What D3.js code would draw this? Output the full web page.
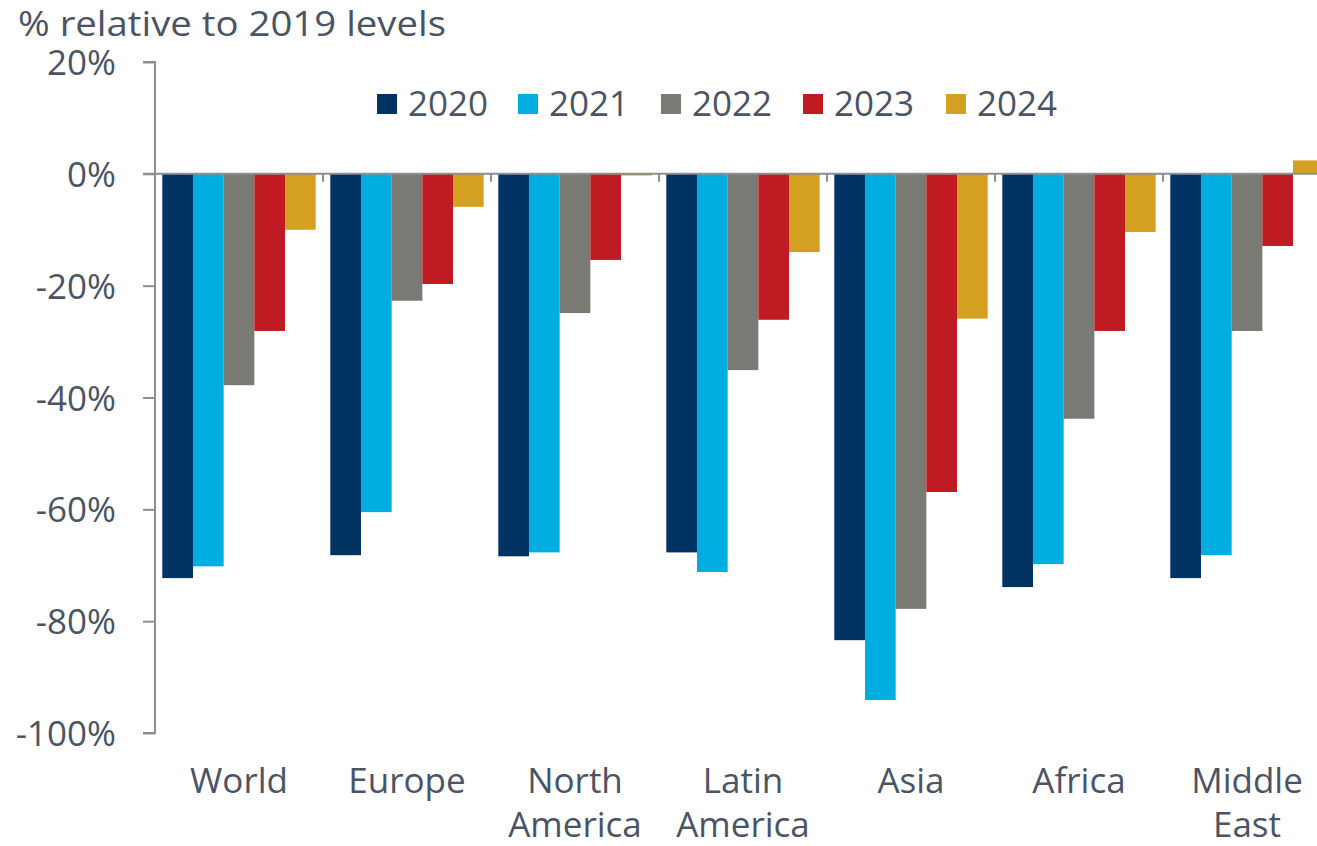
<!DOCTYPE html>
<html>
<head>
<meta charset="utf-8">
<script src="https://cdn.jsdelivr.net/npm/d3@7"></script>
<style>
  html, body { margin: 0; padding: 0; background: #fff; }
  svg { display: block; font-family: "Open Sans", "Noto Sans", sans-serif; }
</style>
</head>
<body>
<svg id="chart" width="1317" height="846"></svg>
<script>
// Regions (line breaks within a label use "\n")
const regions = ["World", "Europe", "North\nAmerica", "Latin\nAmerica", "Asia", "Africa", "Middle\nEast"];
const years = ["2020", "2021", "2022", "2023", "2024"];

// % change relative to 2019, one array per year, ordered as regions
const v2020 = [-72.3, -68.2, -68.4, -67.7, -83.4, -73.9, -72.3];
const v2021 = [-70.2, -60.5, -67.7, -71.2, -94.1, -69.8, -68.2];
const v2022 = [-37.8, -22.7, -24.9, -35.1, -77.8, -43.8, -28.1];
const v2023 = [-28.1, -19.7, -15.4, -26.1, -56.9, -28.1, -12.9];
const v2024 = [-10.0, -5.9, -0.3, -14.0, -25.9, -10.4, 2.4];

const yTicks = [20, 0, -20, -40, -60, -80, -100];
const colors = ["#003262", "#00ade0", "#7a7a74", "#c01b23", "#d3a021"];

const seriesValues = [v2020, v2021, v2022, v2023, v2024];
const rows = regions.map((r, i) => ({
  region: r,
  values: years.map((y, j) => ({ year: y, value: seriesValues[j][i] }))
}));

const svg = d3.select("#chart");
const textColor = "#4a5464";
const axisColor = "#8e8e8e";

const plotLeft = 155, plotTop = 62, plotBottom = 733, step = 168;
const y = d3.scaleLinear().domain([-100, 20]).range([plotBottom, plotTop]);
const x0 = d3.scaleBand().domain(regions).range([plotLeft, plotLeft + step * regions.length]);
const x1 = d3.scaleBand().domain(years).range([7.3, step - 7.3]);
const color = d3.scaleOrdinal().domain(years).range(colors);

// Subtitle
svg.append("text")
  .attr("x", 18).attr("y", 36)
  .attr("font-size", 35).attr("fill", textColor)
  .attr("textLength", 428).attr("lengthAdjust", "spacingAndGlyphs")
  .text("% relative to 2019 levels");

// Bars
const groups = svg.append("g").selectAll("g")
  .data(rows).join("g")
  .attr("transform", d => `translate(${x0(d.region)},0)`);

groups.selectAll("rect")
  .data(d => d.values).join("rect")
  .attr("x", d => x1(d.year))
  .attr("width", x1.bandwidth())
  .attr("y", d => y(Math.max(0, d.value)))
  .attr("height", d => Math.abs(y(d.value) - y(0)))
  .attr("fill", d => color(d.year));

// Y axis
const yAxis = svg.append("g")
  .attr("transform", `translate(${plotLeft},0)`)
  .call(d3.axisLeft(y).tickValues(yTicks).tickSize(12).tickPadding(27)
    .tickFormat(d => d + "%"));
yAxis.select(".domain").attr("stroke", axisColor).attr("stroke-width", 2)
  .attr("d", `M-12,${plotTop}H0V${plotBottom}H-12`);
yAxis.selectAll(".tick line").attr("stroke", axisColor).attr("stroke-width", 2);
yAxis.selectAll(".tick text")
  .attr("font-size", 35).attr("fill", textColor)
  .attr("font-family", "\"Open Sans\", \"Noto Sans\", sans-serif")
  .attr("dy", "0.36em");

// Zero line with category separators
const xAxis = svg.append("g")
  .attr("transform", `translate(0,${y(0)})`);
xAxis.append("line")
  .attr("x1", plotLeft - 12).attr("x2", 1317)
  .attr("stroke", axisColor).attr("stroke-width", 2);
xAxis.selectAll("line.sep")
  .data(regions.slice(1)).join("line")
  .attr("class", "sep")
  .attr("x1", d => x0(d)).attr("x2", d => x0(d))
  .attr("y1", 0).attr("y2", 8)
  .attr("stroke", axisColor).attr("stroke-width", 2);

// Category labels
const labels = svg.append("g").selectAll("text")
  .data(regions).join("text")
  .attr("x", d => x0(d) + x0.bandwidth() / 2)
  .attr("y", 793)
  .attr("text-anchor", "middle")
  .attr("font-size", 35).attr("fill", textColor);
labels.selectAll("tspan")
  .data(d => d.split("\n")).join("tspan")
  .attr("x", function () { return d3.select(this.parentNode).attr("x"); })
  .attr("dy", (d, i) => i === 0 ? 0 : 44)
  .text(d => d);

// Legend
const legendX = [377, 518, 661, 803, 946];
const legend = svg.append("g").selectAll("g")
  .data(years).join("g")
  .attr("transform", (d, i) => `translate(${legendX[i]},94)`);
legend.append("rect")
  .attr("width", 20).attr("height", 20)
  .attr("fill", d => color(d));
legend.append("text")
  .attr("x", 31).attr("y", 22)
  .attr("font-size", 35).attr("fill", textColor)
  .text(d => d);
</script>
</body>
</html>
